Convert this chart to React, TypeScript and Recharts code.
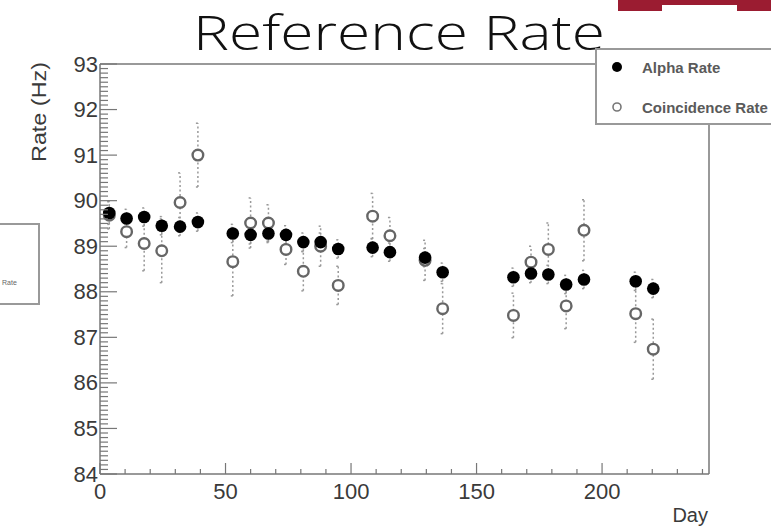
import React from "react";
import {
  ScatterChart,
  Scatter,
  XAxis,
  YAxis,
  ErrorBar,
  ReferenceLine,
  Legend,
} from "recharts";

// measurement days
const days = [
  3.7, 10.6, 17.6, 24.6, 31.9, 39.0, 52.9, 60.0, 67.1, 74.1, 81.0, 87.9, 94.9,
  108.6, 115.5, 129.5, 136.5, 164.7, 171.7, 178.6, 185.7, 192.8, 213.4, 220.4,
];
const alphaRate = [
  89.73, 89.61, 89.64, 89.45, 89.43, 89.53, 89.28, 89.25, 89.28, 89.25, 89.09,
  89.09, 88.94, 88.97, 88.87, 88.75, 88.43, 88.32, 88.4, 88.38, 88.16, 88.27,
  88.23, 88.07,
];
const alphaErr = [
  0.25, 0.2, 0.2, 0.2, 0.2, 0.2, 0.2, 0.2, 0.2, 0.2, 0.2, 0.2, 0.2, 0.2, 0.2,
  0.2, 0.2, 0.2, 0.2, 0.2, 0.2, 0.2, 0.2, 0.2,
];
const coincRate = [
  89.68, 89.32, 89.06, 88.9, 89.96, 91.0, 88.66, 89.51, 89.51, 88.93, 88.45,
  89.0, 88.14, 89.66, 89.23, 88.69, 87.63, 87.48, 88.65, 88.93, 87.69, 89.35,
  87.52, 86.74,
];
const coincErr = [
  0.3, 0.35, 0.6, 0.7, 0.65, 0.7, 0.75, 0.55, 0.4, 0.33, 0.43, 0.44, 0.42, 0.5,
  0.4, 0.44, 0.55, 0.49, 0.35, 0.58, 0.5, 0.67, 0.63, 0.66,
];

const xMajor = [0, 50, 100, 150, 200];
const xTicks = Array.from({ length: 25 }, (_, i) => i * 10);
const yMajor = [84, 85, 86, 87, 88, 89, 90, 91, 92, 93];
const yTicks = Array.from({ length: 91 }, (_, i) => +(84 + i * 0.1).toFixed(1));

const X_MAX = 242.6;
const AXIS = "#777";
const LABEL = "#3a3a3a";
const FONT = "'Liberation Sans', Arial, sans-serif";

const alphaData = days.map((d, i) => ({ x: d, y: alphaRate[i], err: alphaErr[i] }));
const coincData = days.map((d, i) => ({ x: d, y: coincRate[i], err: coincErr[i] }));

const YTick = (props: any) => {
  const { x, y, payload } = props;
  const v = payload.value;
  const major = yMajor.includes(v);
  return (
    <g>
      <line x1={x} x2={x + (major ? 17 : 8)} y1={y} y2={y} stroke={AXIS} strokeWidth={1.2} />
      {major && (
        <text x={x - 2} y={y} textAnchor="end" dominantBaseline="central" fontSize={22} fill={LABEL} fontFamily={FONT}>
          {v}
        </text>
      )}
    </g>
  );
};

const XTick = (props: any) => {
  const { x, y, payload } = props;
  const v = payload.value;
  const major = xMajor.includes(v);
  return (
    <g>
      <line x1={x} x2={x} y1={y} y2={y - (major ? 11 : 5)} stroke={AXIS} strokeWidth={1.2} />
      {major && (
        <text x={x} y={y + 25} textAnchor="middle" fontSize={22} fill={LABEL} fontFamily={FONT}>
          {v}
        </text>
      )}
    </g>
  );
};

const FilledDot = (p: any) => <circle cx={p.cx} cy={p.cy} r={6.3} fill="#000" />;
const OpenDot = (p: any) => (
  <circle cx={p.cx} cy={p.cy} r={5.3} fill="#fff" stroke="#666" strokeWidth={2.4} />
);

const LegendBox = (props: any) => {
  const items = props.payload || [];
  return (
    <div
      style={{
        width: 230,
        height: 73,
        border: "2px solid #999",
        background: "#fff",
        position: "relative",
        fontFamily: FONT,
      }}
    >
      {items.map((it: any, i: number) => (
        <div key={it.value} style={{ position: "absolute", left: 0, top: 17 + i * 40 - 10, height: 20, display: "flex", alignItems: "center" }}>
          <svg width={45} height={20}>
            {it.value === "Alpha Rate" ? (
              <circle cx={20} cy={10} r={5} fill="#000" />
            ) : (
              <circle cx={20} cy={10} r={4} fill="#fff" stroke="#777" strokeWidth={1.6} />
            )}
          </svg>
          <span style={{ fontSize: 15, fontWeight: 700, color: "#5a5a5a", whiteSpace: "nowrap" }}>{it.value}</span>
        </div>
      ))}
    </div>
  );
};

export default function App() {
  return (
    <div style={{ position: "absolute", left: 0, top: 0, width: 771, height: 529, overflow: "hidden", background: "#fff" }}>
      <div style={{ position: "absolute", left: 618, top: 0, width: 160, height: 11, background: "#9b1c31" }} />
      <div style={{ position: "absolute", left: 662, top: 5, width: 75, height: 6, background: "#fff" }} />
      <div
        style={{
          position: "absolute",
          left: -10,
          top: 223,
          width: 46,
          height: 78,
          border: "2px solid #999",
          fontFamily: FONT,
          fontSize: 7,
          color: "#666",
        }}
      >
        <span style={{ position: "absolute", left: 10, top: 54 }}>Rate</span>
      </div>
      <ScatterChart width={771} height={529} margin={{ top: 64, right: 62, bottom: 0, left: 0 }}>
        <XAxis
          type="number"
          dataKey="x"
          domain={[0, X_MAX]}
          ticks={xTicks}
          interval={0}
          height={55}
          tickSize={0}
          tickMargin={0}
          tick={<XTick />}
          tickLine={false}
          axisLine={{ stroke: AXIS, strokeWidth: 1.5 }}
          allowDataOverflow
        />
        <YAxis
          type="number"
          dataKey="y"
          domain={[84, 93]}
          ticks={yTicks}
          interval={0}
          width={100}
          tickSize={0}
          tickMargin={0}
          tick={<YTick />}
          tickLine={false}
          axisLine={{ stroke: AXIS, strokeWidth: 1.5 }}
          allowDataOverflow
        />
        <ReferenceLine y={93} stroke={AXIS} strokeWidth={1.5} />
        <ReferenceLine x={X_MAX} stroke={AXIS} strokeWidth={1.5} />
        <Scatter name="Coincidence Rate" data={coincData} shape={OpenDot} isAnimationActive={false}>
          <ErrorBar dataKey="err" direction="y" width={2} stroke="#999" strokeWidth={1.5} strokeDasharray="2 2.5" />
        </Scatter>
        <Scatter name="Alpha Rate" data={alphaData} shape={FilledDot} isAnimationActive={false}>
          <ErrorBar dataKey="err" direction="y" width={2} stroke="#999" strokeWidth={1.5} strokeDasharray="2 2.5" />
        </Scatter>
        <Legend
          layout="horizontal"
          verticalAlign="middle"
          align="center"
          content={<LegendBox />}
          wrapperStyle={{ position: "absolute", left: 595, top: 48, width: 230 }}
        />
        <text
          x={399}
          y={50}
          textAnchor="middle"
          fontSize={47}
          fontWeight={300}
          fontFamily="'Open Sans', Roboto, sans-serif"
          fill="#111"
          textLength={412}
          lengthAdjust="spacingAndGlyphs"
        >
          Reference Rate
        </text>
        <text
          x={38}
          y={62}
          transform="rotate(-90 38 62)"
          textAnchor="end"
          dominantBaseline="central"
          fontSize={21}
          fill={LABEL}
          fontFamily={FONT}
          textLength={100}
          lengthAdjust="spacingAndGlyphs"
        >
          Rate (Hz)
        </text>
        <text x={708} y={522} textAnchor="end" fontSize={20} fill={LABEL} fontFamily={FONT}>
          Day
        </text>
      </ScatterChart>
    </div>
  );
}
